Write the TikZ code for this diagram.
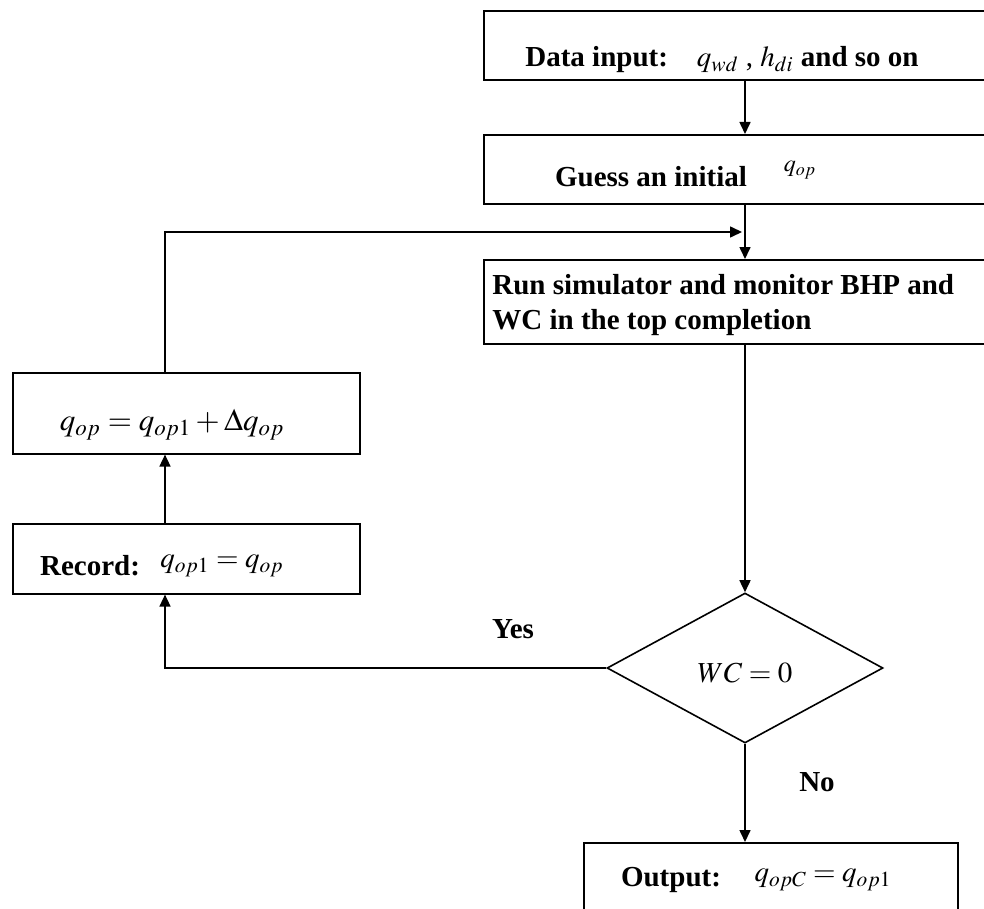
\documentclass[tikz,border=0pt]{standalone}
\usepackage{mathptmx}
\usepackage{fontspec}
\setmainfont{Liberation Serif}
\usetikzlibrary{shapes.geometric,arrows.meta}
\begin{document}
\begin{tikzpicture}[x=0.5pt,y=-0.5pt,
  box/.style={draw, line width=0.8pt, rectangle, inner sep=0pt, anchor=north west},
  txt/.style={inner sep=0pt, font=\fontsize{14.5}{17.5}\selectfont\bfseries},
  arr/.style={line width=0.8pt, -{Triangle[length=6pt,width=5.5pt]}},
  ln/.style={line width=0.8pt}]
\useasboundingbox (0,0) rectangle (984,909);
% boxes
\node[box, minimum width=256pt, minimum height=34.5pt] (b1) at (483,10) {};
\node[box, minimum width=256pt, minimum height=34.5pt] (b2) at (483,134) {};
\node[box, minimum width=256pt, minimum height=42pt] (b3) at (483,259) {};
\node[box, minimum width=173.5pt, minimum height=40.5pt] (q) at (12,372) {};
\node[box, minimum width=173.5pt, minimum height=35pt] (rec) at (12,523) {};
\node[draw, line width=0.8pt, diamond, aspect=1.84, inner sep=0pt,
      minimum width=138pt, minimum height=75pt] (dia) at (745,668) {};
\node[box, minimum width=187pt, minimum height=40pt] (out) at (583,842) {};
% texts
\node[txt] (t1) at (722,60) {Data input:\quad $q_{wd}$ \mdseries, $h_{di}$ \bfseries and so on};
\node[txt] (t2) at (651,177) {Guess an initial};
\node[inner sep=0pt, font=\fontsize{12}{14}\selectfont] (t2m) at (800,170) {$q_{op}$};
\node[txt, align=left, anchor=west] (t3) at (492,305) {Run simulator and monitor BHP and\\WC in the top completion};
\node[txt, font=\fontsize{15.5}{18}\selectfont] (tq) at (172,425) {$q_{op} = q_{op1} + \Delta q_{op}$};
\node[txt] (tr1) at (90,566) {Record:};
\node[txt] (tr2) at (222,566) {$q_{op1} = q_{op}$};
\node[txt] (tw) at (745,673) {$WC = 0$};
\node[txt] (yes) at (513,629) {Yes};
\node[txt] (no) at (817,782) {No};
\node[txt] (to1) at (671,880) {Output:};
\node[txt] (to2) at (823,880) {$q_{opC} = q_{op1}$};
% connectors
\coordinate (yc) at (165,660);
\coordinate (fb) at (742,232);
\draw[arr] (b1.south -| dia.north) -- (b2.north -| dia.north);
\draw[arr] (b2.south -| dia.north) -- (b3.north -| dia.north);
\draw[arr] (b3.south -| dia.north) -- (dia.north);
\draw[arr] (dia.south) -- (out.north -| dia.south);
\draw[arr] (dia.west) -- (dia.west -| yc) -- (rec.south -| yc);
\draw[arr] (rec.north -| yc) -- (q.south -| yc);
\draw[arr] (q.north -| yc) |- (fb);
\end{tikzpicture}
\end{document}
